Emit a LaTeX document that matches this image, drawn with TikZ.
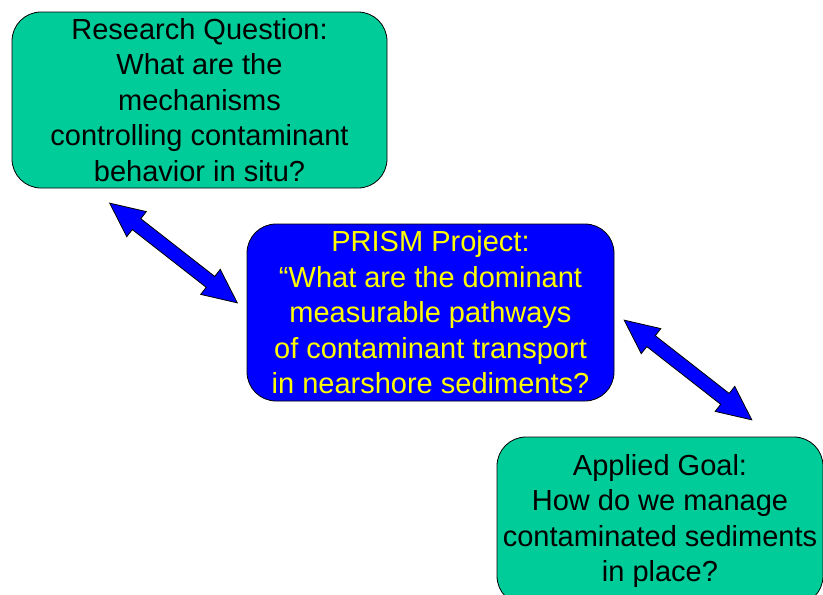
\documentclass[tikz,border=0pt]{standalone}
\usepackage{fontspec}
\setmainfont{Liberation Sans}
\usetikzlibrary{shapes.arrows,calc,positioning}
\definecolor{boxgreen}{RGB}{0,204,153}
\definecolor{prismblue}{RGB}{0,0,255}
\definecolor{prismyellow}{RGB}{255,255,0}

\begin{document}
\begin{tikzpicture}[x=1pt, y=-1pt,
  box/.style={rectangle, draw, line width=0.8pt, rounded corners=29pt, align=center, inner sep=0pt, font=\fontsize{29}{35.5}\selectfont},
  bigarrow/.style={double arrow, draw, fill=prismblue, line width=0.8pt, inner xsep=0pt, inner ysep=6.5pt, minimum height=162pt, double arrow head extend=9pt, double arrow tip angle=50, rotate=-38}]
\useasboundingbox (0,0) rectangle (823,595);
\node[box, fill=boxgreen, minimum width=375pt, minimum height=176pt] (rq) at (199.5,100)
  {Research Question:\\What are the\\mechanisms\\controlling contaminant\\behavior in situ?};
\node[box, fill=prismblue, text=prismyellow, minimum width=367pt, minimum height=177pt] (prism) at (430.5,312.5)
  {PRISM Project:\\“What are the dominant\\measurable pathways\\of contaminant transport\\in nearshore sediments?};
\node[box, fill=boxgreen, minimum width=326pt, minimum height=168pt] (goal) at (660,521)
  {Applied Goal:\\How do we manage\\contaminated sediments\\in place?};
% block arrows between the boxes
\coordinate (rqtip) at (110,203);
\coordinate (prismtipa) at (237,303);
\coordinate (prismtipb) at (624,320);
\coordinate (goaltip) at (752,420);
\node[bigarrow] (arrqprism) at ($(rqtip)!0.5!(prismtipa)$) {};
\node[bigarrow] (arprismgoal) at ($(prismtipb)!0.5!(goaltip)$) {};
\end{tikzpicture}
\end{document}
